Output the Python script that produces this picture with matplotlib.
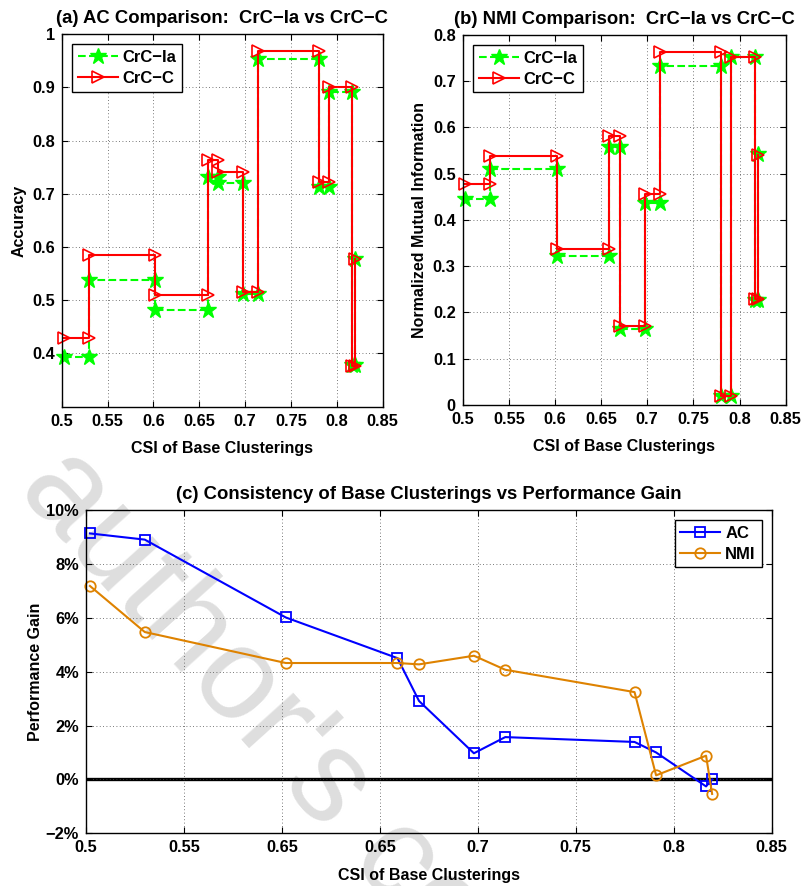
import numpy as np
import matplotlib
matplotlib.use('Agg')
import matplotlib.pyplot as plt

plt.rcParams['font.family'] = ['Liberation Sans', 'DejaVu Sans']
plt.rcParams['font.weight'] = 'bold'
plt.rcParams['axes.labelweight'] = 'bold'
plt.rcParams['axes.titleweight'] = 'bold'

# CSI of base clusterings (sorted)
csi = [0.502, 0.530, 0.602, 0.659, 0.670, 0.698, 0.714, 0.780, 0.791, 0.8165, 0.8196]

# accuracy
ac_ia = [0.394, 0.538, 0.481, 0.731, 0.720, 0.511, 0.954, 0.712, 0.892, 0.378, 0.578]
ac_c = [0.430, 0.586, 0.510, 0.764, 0.741, 0.516, 0.969, 0.722, 0.901, 0.377, 0.578]

# normalized mutual information
nmi_ia = [0.445, 0.511, 0.323, 0.557, 0.164, 0.436, 0.734, 0.0189, 0.752, 0.227, 0.543]
nmi_c = [0.477, 0.539, 0.337, 0.581, 0.171, 0.456, 0.764, 0.0195, 0.753, 0.229, 0.540]

# performance gain in percent
gain_ac = [9.13, 8.90, 6.01, 4.50, 2.91, 0.97, 1.57, 1.39, 1.00, -0.26, 0.0]
gain_nmi = [7.18, 5.47, 4.32, 4.32, 4.27, 4.59, 4.07, 3.24, 0.15, 0.88, -0.54]

x_ticks = [0.5, 0.55, 0.6, 0.65, 0.7, 0.75, 0.8, 0.85]
x_labels_top = ['0.5', '0.55', '0.6', '0.65', '0.7', '0.75', '0.8', '0.85']
x_labels_bottom = ['0.5', '0.55', '0.65', '0.65', '0.7', '0.75', '0.8', '0.85']
ac_ticks = [0.4, 0.5, 0.6, 0.7, 0.8, 0.9, 1.0]
ac_labels = ['0.4', '0.5', '0.6', '0.7', '0.8', '0.9', '1']
nmi_ticks = [0, 0.1, 0.2, 0.3, 0.4, 0.5, 0.6, 0.7, 0.8]
nmi_labels = ['0', '0.1', '0.2', '0.3', '0.4', '0.5', '0.6', '0.7', '0.8']
gain_ticks = [-2, 0, 2, 4, 6, 8, 10]
gain_labels = ['\u22122%', '0%', '2%', '4%', '6%', '8%', '10%']

TICK_FS = 11.8
LABEL_FS = 11.5
TITLE_FS = 13.3
LEG_FS = 12


def stairs(x, y):
    # matlab style stairs vertices, markers on every corner
    xs = np.repeat(x, 2)[1:]
    ys = np.repeat(y, 2)[:-1]
    return xs, ys


def style_axes(ax):
    ax.set_facecolor('none')
    ax.grid(True, linestyle=(0, (1, 3)), color='0.3', linewidth=0.6)
    ax.tick_params(direction='in', top=True, right=True, labelsize=TICK_FS, length=4,
                   width=0.8, pad=5)
    for s in ax.spines.values():
        s.set_linewidth(1.0)


def add_legend(ax, loc):
    leg = ax.legend(loc=loc, fontsize=LEG_FS, handlelength=2.4, handletextpad=0.3,
                    fancybox=False, framealpha=1, edgecolor='black', borderaxespad=0.6,
                    borderpad=0.35, labelspacing=0.35)
    leg.get_frame().set_linewidth(1.0)


fig = plt.figure(figsize=(8.03, 8.86), dpi=100)

# watermark
fig.text(0.02, 0.447, "author's copy", fontsize=94, color='#dedede', rotation=-48,
         rotation_mode='anchor', ha='left', va='baseline', fontweight='normal', zorder=-5)

ax1 = fig.add_axes([0.0768, 0.541, 0.3998, 0.4203])
ax2 = fig.add_axes([0.5762, 0.5429, 0.4022, 0.4176])
ax3 = fig.add_axes([0.1071, 0.0595, 0.8539, 0.3649])

for ax, ia, c, ticks, labels, lim, ylabel, title in [
        (ax1, ac_ia, ac_c, ac_ticks, ac_labels, (0.3, 1.0), 'Accuracy',
         '(a) AC Comparison:  CrC\u2212Ia vs CrC\u2212C'),
        (ax2, nmi_ia, nmi_c, nmi_ticks, nmi_labels, (0, 0.8), 'Normalized Mutual Information',
         '(b) NMI Comparison:  CrC\u2212Ia vs CrC\u2212C')]:
    xs, ys = stairs(csi, ia)
    ax.plot(xs, ys, '--', color=(0, 1, 0), lw=1.5, marker='*', ms=12, mec=(0, 1, 0),
            mfc=(0, 1, 0), label='CrC\u2212Ia', clip_on=False)
    xs, ys = stairs(csi, c)
    ax.plot(xs, ys, '-', color='red', lw=1.5, marker='>', ms=8.5, mfc='none', mec='red',
            mew=1.2, label='CrC\u2212C', clip_on=False)
    ax.set_xlim(0.5, 0.85)
    ax.set_ylim(*lim)
    ax.set_xticks(x_ticks)
    ax.set_xticklabels(x_labels_top)
    ax.set_yticks(ticks)
    ax.set_yticklabels(labels)
    ax.set_xlabel('CSI of Base Clusterings', fontsize=LABEL_FS, labelpad=9)
    ax.set_ylabel(ylabel, fontsize=LABEL_FS, labelpad=4)
    ax.set_title(title, fontsize=TITLE_FS, pad=8)
    style_axes(ax)
    add_legend(ax, 'upper left')

ax3.axhline(0, color='black', lw=2.4, zorder=1.5)
ax3.plot(csi, gain_ac, '-', color='blue', lw=1.5, marker='s', ms=6.5, mfc='none', mew=1.3,
         label='AC', clip_on=False)
ax3.plot(csi, gain_nmi, '-', color='#de8200', lw=1.5, marker='o', ms=7.5, mfc='none', mew=1.3,
         label='NMI', clip_on=False)
ax3.set_xlim(0.5, 0.85)
ax3.set_ylim(-2, 10)
ax3.set_xticks(x_ticks)
ax3.set_xticklabels(x_labels_bottom)
ax3.set_yticks(gain_ticks)
ax3.set_yticklabels(gain_labels)
ax3.set_xlabel('CSI of Base Clusterings', fontsize=LABEL_FS, labelpad=9)
ax3.set_ylabel('Performance Gain', fontsize=LABEL_FS, labelpad=2)
ax3.set_title('(c) Consistency of Base Clusterings vs Performance Gain', fontsize=TITLE_FS, pad=8)
style_axes(ax3)
add_legend(ax3, 'upper right')

fig.savefig('out.png', dpi=100)
